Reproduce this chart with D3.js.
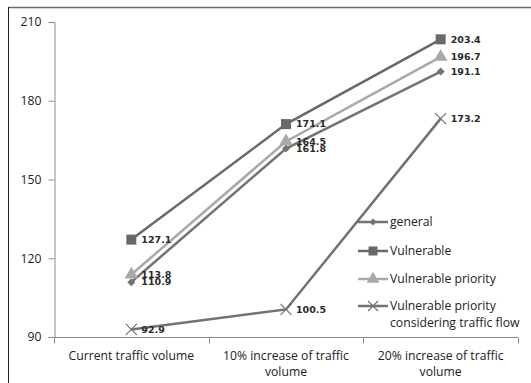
<!DOCTYPE html>
<html>
<head>
<meta charset="utf-8">
<script src="https://cdn.jsdelivr.net/npm/d3@7"></script>
<style>
  html, body { margin: 0; padding: 0; background: #fff; }
  svg { display: block; }
</style>
</head>
<body>
<div id="chart"></div>
<script>
// Scenario categories (x axis) — each label split into display lines
const categories = ["Current traffic volume", "10% increase of traffic volume", "20% increase of traffic volume"];
const categoryLines = [["Current traffic volume"], ["10% increase of traffic", "volume"], ["20% increase of traffic", "volume"]];

// Series values
const general = [110.9, 161.8, 191.1];
const vulnerable = [127.1, 171.1, 203.4];
const vulnerablePriority = [113.8, 164.5, 196.7];
const vulnerablePriorityFlow = [92.9, 100.5, 173.2];

const seriesNames = ["general", "Vulnerable", "Vulnerable priority", "Vulnerable priority considering traffic flow"];
const yTicks = [90, 120, 150, 180, 210];

const series = [
  { name: seriesNames[0], values: general, color: "#737373", marker: "diamond" },
  { name: seriesNames[1], values: vulnerable, color: "#696969", marker: "square" },
  { name: seriesNames[2], values: vulnerablePriority, color: "#a9a9a9", marker: "triangle" },
  { name: seriesNames[3], values: vulnerablePriorityFlow, color: "#727272", marker: "cross" }
];

const W = 531, H = 383;
const plot = { left: 54, right: 518, top: 22, bottom: 337 };

const svg = d3.select("#chart").append("svg").attr("width", W).attr("height", H);

// Outer frame (runs off the page at right and bottom)
svg.append("line").attr("x1", 8.5).attr("x2", W).attr("y1", 7.5).attr("y2", 7.5)
  .attr("stroke", "#6a6a6a").attr("stroke-width", 1.5);
svg.append("line").attr("x1", 8.5).attr("x2", 8.5).attr("y1", 7).attr("y2", H)
  .attr("stroke", "#222").attr("stroke-width", 1);

const x = d3.scaleBand().domain(categories).range([plot.left, plot.right]).padding(0);
const y = d3.scaleLinear().domain([90, 210]).range([plot.bottom, plot.top]);

const axisFont = "'Open Sans', 'Liberation Sans', sans-serif";
const axisSize = 12.2;

// Y axis
const yAxis = svg.append("g").attr("transform", `translate(${plot.left + 0.5},0)`)
  .call(d3.axisLeft(y).tickValues(yTicks).tickSize(6).tickFormat(d3.format("d")));
yAxis.select(".domain").attr("stroke", "#8c8c8c");
yAxis.selectAll(".tick line").attr("stroke", "#8c8c8c");
yAxis.selectAll(".tick text").attr("font-family", axisFont).attr("font-size", axisSize)
  .attr("fill", "#222").attr("x", -13);

// X axis with tick marks at category boundaries
const xAxisG = svg.append("g").attr("transform", `translate(0,${plot.bottom + 0.5})`);
xAxisG.append("line").attr("x1", plot.left).attr("x2", plot.right)
  .attr("stroke", "#8c8c8c");
const boundaries = categories.map(c => x(c)).concat([x(categories[categories.length - 1]) + x.bandwidth()]);
xAxisG.selectAll(".bt").data(boundaries).join("line")
  .attr("x1", d => Math.round(d) + 0.5).attr("x2", d => Math.round(d) + 0.5)
  .attr("y1", 0).attr("y2", 6).attr("stroke", "#8c8c8c");
xAxisG.selectAll(".cat").data(categories).join("text")
  .attr("x", d => x(d) + x.bandwidth() / 2)
  .attr("text-anchor", "middle")
  .attr("font-family", axisFont).attr("font-size", axisSize).attr("fill", "#222")
  .each(function(d, i) {
    const t = d3.select(this);
    categoryLines[i].forEach((ln, k) => {
      t.append("tspan").attr("x", x(d) + x.bandwidth() / 2).attr("y", 22 + k * 16).text(ln);
    });
  });

const cx = c => x(c) + x.bandwidth() / 2;

function drawMarker(g, type, color, size) {
  if (type === "diamond") {
    const r = size / 2;
    g.append("path").attr("d", `M0,${-r}L${r},0L0,${r}L${-r},0Z`).attr("fill", color);
  } else if (type === "square") {
    g.append("rect").attr("x", -size / 2 - 1).attr("y", -size / 2 - 1)
      .attr("width", size + 2).attr("height", size + 2).attr("fill", color);
  } else if (type === "triangle") {
    g.append("path").attr("d", d3.symbol(d3.symbolTriangle, size * 10)()).attr("fill", color);
  } else {
    const r = size / 2 + 1.5;
    g.append("path").attr("d", `M${-r},${-r}L${r},${r}M${-r},${r}L${r},${-r}`)
      .attr("stroke", color).attr("stroke-width", 1.2).attr("fill", "none");
  }
}

const line = d3.line().x((d, i) => cx(categories[i])).y(d => y(d));

// Series lines and markers
series.forEach(s => {
  svg.append("path").datum(s.values).attr("d", line)
    .attr("fill", "none").attr("stroke", s.color).attr("stroke-width", 2.5);
  s.values.forEach((v, i) => {
    const g = svg.append("g").attr("transform", `translate(${cx(categories[i])},${y(v)})`);
    drawMarker(g, s.marker, s.color, 8);
  });
});

// Data labels
series.forEach(s => {
  s.values.forEach((v, i) => {
    svg.append("text")
      .attr("x", cx(categories[i]) + 10).attr("y", y(v)).attr("dy", "0.35em")
      .attr("font-family", "'DejaVu Sans', Verdana, sans-serif").attr("font-weight", "bold")
      .attr("font-size", 9.5).attr("fill", "#2a2a2a")
      .text(d3.format(".1f")(v));
  });
});

// Legend
const legend = svg.append("g").attr("transform", "translate(358,222)");
const rowY = [0, 29, 57, 84];
series.forEach((s, i) => {
  const g = legend.append("g").attr("transform", `translate(0,${rowY[i]})`);
  g.append("line").attr("x1", 0).attr("x2", 30).attr("stroke", s.color).attr("stroke-width", 2.5);
  const m = g.append("g").attr("transform", "translate(15,0)");
  drawMarker(m, s.marker, s.color, 7);
  const t = g.append("text").attr("x", 32).attr("y", 0).attr("dy", "0.35em")
    .attr("font-family", axisFont).attr("font-size", axisSize).attr("fill", "#222");
  if (i === 3) {
    t.append("tspan").attr("x", 32).text("Vulnerable priority");
    t.append("tspan").attr("x", 32).attr("dy", "1.4em").text("considering traffic flow");
  } else {
    t.text(s.name);
  }
});
</script>
</body>
</html>
